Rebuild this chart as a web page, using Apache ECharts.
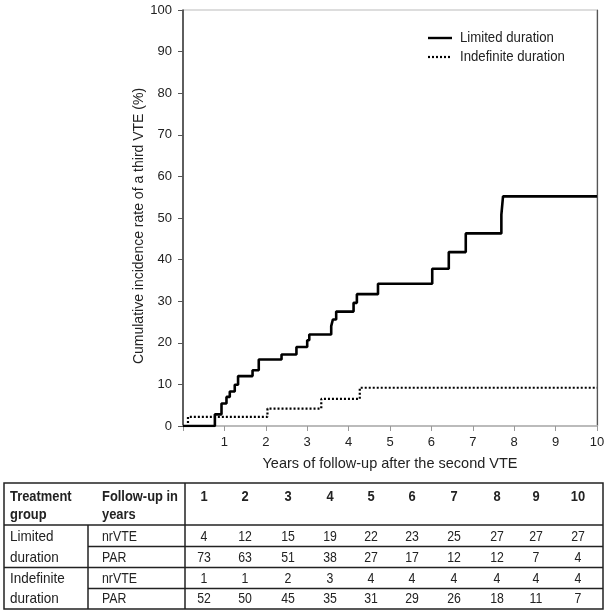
<!DOCTYPE html>
<html>
<head>
<meta charset="utf-8">
<script src="https://cdn.jsdelivr.net/npm/echarts@6/dist/echarts.min.js"></script>
<style>html,body{margin:0;padding:0;background:#fff}#c{width:608px;height:612px}</style>
</head>
<body>
<div id="c"></div>
<script>
// ---- data ----
var limitedT = [0, 0.77, 0.93, 1.05, 1.13, 1.25, 1.33, 1.68, 1.83, 2.38, 2.74, 3.0, 3.05, 3.58, 3.62, 3.70, 4.12, 4.20, 4.71, 6.02, 6.42, 6.83, 7.69, 7.73, 10];
var limitedV = [0, 2.8, 5.4, 7.0, 8.3, 9.9, 12.0, 13.4, 16.0, 17.2, 19.0, 20.6, 22.0, 24.0, 25.6, 27.5, 29.6, 31.7, 34.2, 37.8, 41.8, 46.3, 50.8, 55.2, 55.2];
var indefT = [0, 0.12, 2.04, 3.34, 4.27, 10];
var indefV = [0, 2.2, 4.2, 6.5, 9.2, 9.2];
var seriesNames = ['Limited duration', 'Indefinite duration'];
var xTitle = 'Years of follow-up after the second VTE';
var yTitle = 'Cumulative incidence rate of a third VTE (%)';

var tableYears = ['1', '2', '3', '4', '5', '6', '7', '8', '9', '10'];
var limNr = [4, 12, 15, 19, 22, 23, 25, 27, 27, 27];
var limPar = [73, 63, 51, 38, 27, 17, 12, 12, 7, 4];
var indNr = [1, 1, 2, 3, 4, 4, 4, 4, 4, 4];
var indPar = [52, 50, 45, 35, 31, 29, 26, 18, 11, 7];
var headGroup = ['Treatment', 'group'];
var headFollow = ['Follow-up in', 'years'];
var groupLabels = [['Limited', 'duration'], ['Indefinite', 'duration']];
var rowMeasures = ['nrVTE', 'PAR'];

// ---- build ----
var FONT = "'Liberation Sans', Arial, sans-serif";
var TXT = '#222';
function pairs(t, v) { return t.map(function (x, i) { return [x, v[i]]; }); }

var chart = echarts.init(document.getElementById('c'), null, { renderer: 'canvas' });

var g = [];
var lineStyle = { stroke: '#222', lineWidth: 1.5 };
function hline(y, x1, x2) { g.push({ type: 'line', shape: { x1: x1, y1: y, x2: x2, y2: y }, style: lineStyle }); }
function vline(x, y1, y2) { g.push({ type: 'line', shape: { x1: x, y1: y1, x2: x, y2: y2 }, style: lineStyle }); }
function txt(s, x, y, align, bold, size, sx, rot) {
  g.push({ type: 'text', x: x, y: y, scaleX: sx || 0.85, scaleY: 1, rotation: rot || 0,
    style: { text: String(s), fill: TXT, font: (bold ? 'bold ' : '') + (size || 15) + 'px ' + FONT, textAlign: align, textVerticalAlign: 'middle' } });
}

// y-axis title (drawn, rotated)
txt(yTitle, 139, 226, 'center', false, 14, 1, Math.PI / 2);

// legend (drawn)
g.push({ type: 'line', shape: { x1: 428, y1: 38, x2: 452, y2: 38 }, style: { stroke: '#000', lineWidth: 2.4 } });
g.push({ type: 'line', shape: { x1: 428, y1: 57, x2: 452, y2: 57 }, style: { stroke: '#000', lineWidth: 2.2, lineDash: [2, 2] } });
txt(seriesNames[0], 460, 38, 'left', false, 15, 0.88);
txt(seriesNames[1], 460, 57, 'left', false, 15, 0.88);

// table geometry
var tL = 4, tR = 603, tTop = 483, tHead = 525, tMid1 = 546.5, tMid2 = 567.5, tMid3 = 588.5, tBot = 609;
var xGroupSplit = 88, xNumSplit = 185;
var colX = [204, 245, 288, 330, 371, 412, 454, 497, 536, 578];
var rowY = [537, 557.5, 578.5, 599];
g.push({ type: 'rect', shape: { x: tL, y: tTop, width: tR - tL, height: tBot - tTop }, style: { fill: 'none', stroke: '#222', lineWidth: 1.5 } });
hline(tHead, tL, tR); hline(tMid1, xGroupSplit, tR); hline(tMid2, tL, tR); hline(tMid3, xGroupSplit, tR);
vline(xGroupSplit, tHead, tBot); vline(xNumSplit, tTop, tBot);
txt(headGroup[0], 10, 497, 'left', true, 15, 0.86); txt(headGroup[1], 10, 515, 'left', true, 15, 0.86);
txt(headFollow[0], 102, 497, 'left', true, 15, 0.86); txt(headFollow[1], 102, 515, 'left', true, 15, 0.86);
tableYears.forEach(function (s, i) { txt(s, colX[i], 497, 'center', true, 15, 0.86); });
txt(groupLabels[0][0], 10, rowY[0], 'left', false, 15, 0.9); txt(groupLabels[0][1], 10, rowY[1], 'left', false, 15, 0.9);
txt(groupLabels[1][0], 10, rowY[2], 'left', false, 15, 0.9); txt(groupLabels[1][1], 10, rowY[3], 'left', false, 15, 0.9);
[limNr, limPar, indNr, indPar].forEach(function (arr, r) {
  txt(rowMeasures[r % 2], 102, rowY[r], 'left', false, 15, 0.82);
  arr.forEach(function (v, i) { txt(v, colX[i], rowY[r], 'center', false, 15, 0.82); });
});

var option = {
  animation: false,
  backgroundColor: '#fff',
  textStyle: { fontFamily: FONT },
  grid: { left: 183, right: 11, top: 10, bottom: 186, show: true, borderColor: '#bbb', borderWidth: 1 },
  xAxis: {
    type: 'value', min: 0, max: 10, interval: 1,
    name: xTitle, nameLocation: 'middle', nameGap: 30,
    nameTextStyle: { color: TXT, fontSize: 14.5, fontFamily: FONT },
    axisLine: { lineStyle: { color: '#bbb', width: 2 } },
    axisTick: { show: true, length: 5, lineStyle: { color: '#999' } },
    axisLabel: { color: TXT, fontSize: 13, fontFamily: FONT, margin: 10, formatter: function (v) { return v === 0 ? '' : String(v); } },
    splitLine: { show: false }
  },
  yAxis: [{
    type: 'value', min: 0, max: 100, interval: 10,
    axisLine: { lineStyle: { color: '#333', width: 1.5 } },
    axisTick: { show: true, length: 5, lineStyle: { color: '#555' } },
    axisLabel: { color: TXT, fontSize: 13, fontFamily: FONT, margin: 11 },
    splitLine: { show: false }
  }, {
    type: 'value', min: 0, max: 100, interval: 10, position: 'right',
    axisLine: { show: true, lineStyle: { color: '#555', width: 1.2 } },
    axisTick: { show: false }, axisLabel: { show: false }, splitLine: { show: false }
  }],
  series: [{
    name: seriesNames[0], type: 'line', step: 'end', showSymbol: false, symbol: 'none', z: 3,
    lineStyle: { color: '#000', width: 2.6 }, itemStyle: { color: '#000' },
    data: pairs(limitedT, limitedV)
  }, {
    name: seriesNames[1], type: 'line', step: 'end', showSymbol: false, symbol: 'none', z: 2,
    lineStyle: { color: '#000', width: 2.2, type: [2, 2] }, itemStyle: { color: '#000' },
    data: pairs(indefT, indefV)
  }],
  graphic: g
};
chart.setOption(option);
</script>
</body>
</html>
